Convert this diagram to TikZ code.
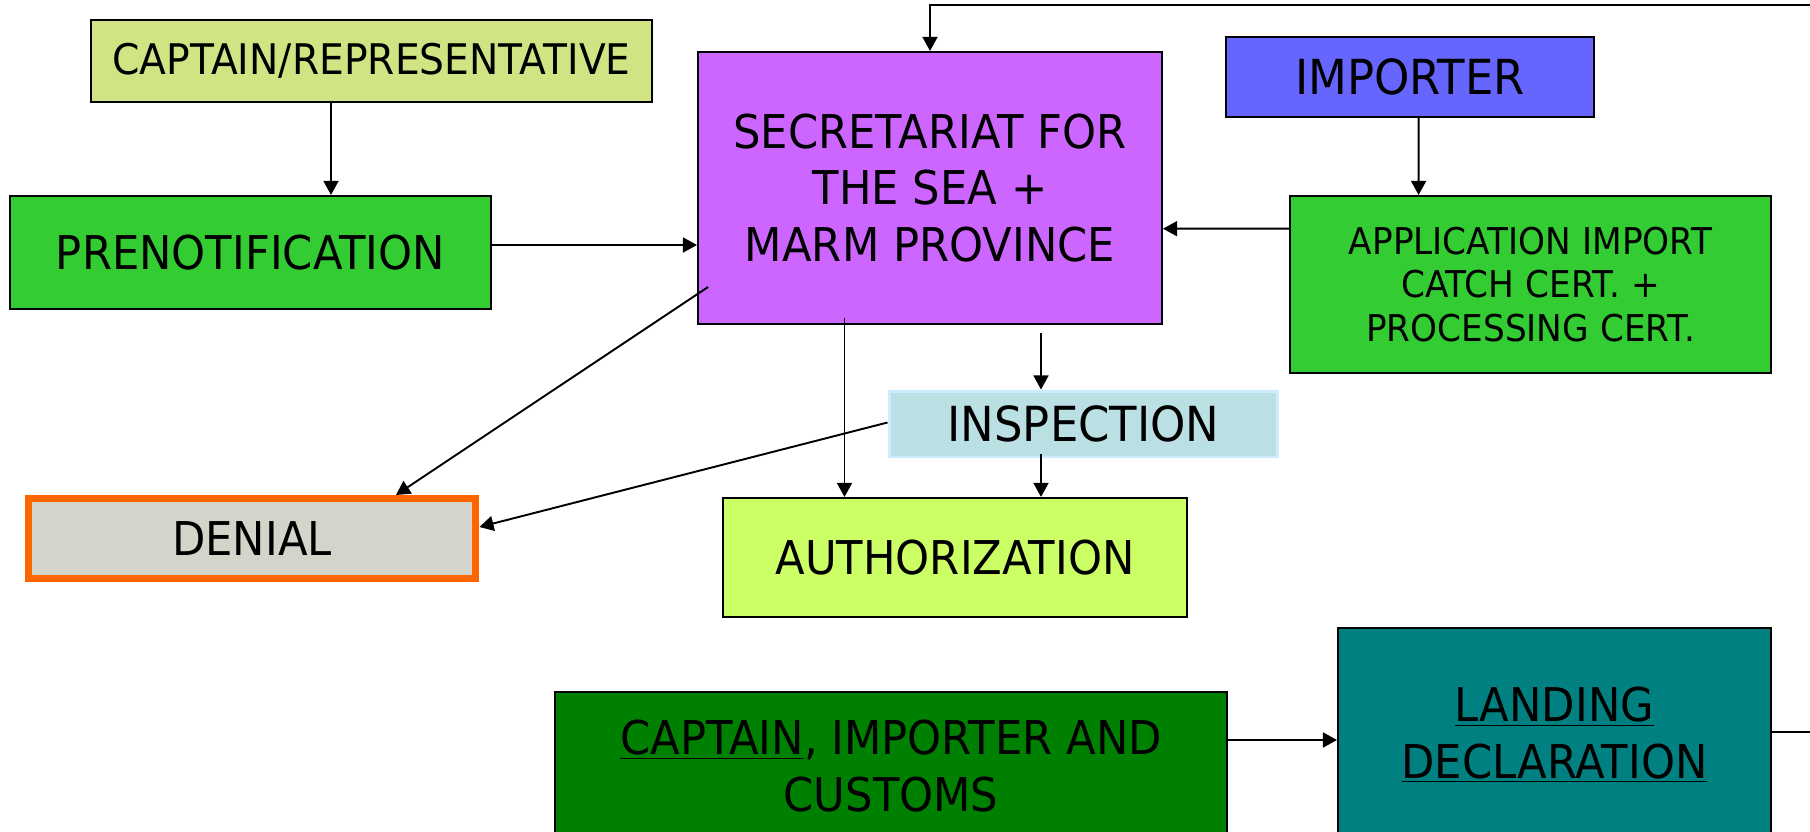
\documentclass[tikz,border=0pt]{standalone}
\usepackage{fontspec}
\setmainfont{DejaVu Sans}[FakeStretch=0.93]
\usetikzlibrary{arrows.meta,calc}

\definecolor{capfill}{RGB}{208,228,132}
\definecolor{greenfill}{RGB}{51,204,51}
\definecolor{secfill}{RGB}{204,102,255}
\definecolor{impfill}{RGB}{102,102,255}
\definecolor{inspfill}{RGB}{187,224,227}
\definecolor{inspline}{RGB}{204,236,255}
\definecolor{denfill}{RGB}{212,212,202}
\definecolor{denline}{RGB}{255,102,0}
\definecolor{authfill}{RGB}{204,255,102}
\definecolor{custfill}{RGB}{0,128,0}
\definecolor{landfill}{RGB}{0,128,128}

\begin{document}
\begin{tikzpicture}[x=0.02cm,y=-0.02cm,>={Triangle[length=8pt,width=8.5pt]},
  box/.style={rectangle,draw,line width=1.2pt,inner sep=0pt,align=center,
    font=\fontsize{26.5}{32.4}\selectfont},
  link/.style={->,line width=1.1pt}]

  \useasboundingbox[fill=white] (0,0) rectangle (1810,832);

  \node[box,fill=capfill,minimum width=11.22cm,minimum height=1.64cm,
    font=\fontsize{24}{30}\selectfont] (cap) at (371.5,61) {CAPTAIN/REPRESENTATIVE};
  \node[box,fill=greenfill,minimum width=9.62cm,minimum height=2.26cm] (pren) at (250.5,252.5) {PRENOTIFICATION};
  \node[box,fill=secfill,minimum width=9.28cm,minimum height=5.44cm] (sec) at (930,188)
    {SECRETARIAT FOR\\THE SEA +\\MARM PROVINCE};
  \node[box,fill=impfill,minimum width=7.36cm,minimum height=1.6cm,
    font=\fontsize{27.5}{33}\selectfont] (imp) at (1410,77) {IMPORTER};
  \node[box,fill=greenfill,minimum width=9.62cm,minimum height=3.54cm,
    font=\fontsize{21}{25}\selectfont] (app) at (1530.5,284.5)
    {APPLICATION IMPORT\\CATCH CERT. +\\PROCESSING CERT.};
  \node[box,draw=inspline,line width=1.7pt,fill=inspfill,minimum width=7.78cm,minimum height=1.32cm,
    font=\fontsize{27.5}{33}\selectfont] (insp) at (1083.5,424) {INSPECTION};
  \node[box,draw=denline,line width=4pt,fill=denfill,minimum width=8.96cm,minimum height=1.6cm] (den) at (252,538.5) {DENIAL};
  \node[box,fill=authfill,minimum width=9.28cm,minimum height=2.38cm] (auth) at (955,557.5) {AUTHORIZATION};
  \node[box,fill=custfill,minimum width=13.44cm,minimum height=2.98cm] (cust) at (891,766.5)
    {\underline{CAPTAIN}, IMPORTER AND\\CUSTOMS};
  \node[box,fill=landfill,minimum width=8.66cm,minimum height=4.28cm] (land) at (1554.5,735)
    {\underline{LANDING}\\\underline{DECLARATION}};

  \coordinate (loop) at (1850,4.7);

  \path[link]
    ($(cap.south)+(-40.5,0)$) edge ($(pren.north)+(80.5,0)$)
    ($(pren.east)+(0,-7.5)$) edge ($(sec.west)+(0,57)$)
    ($(app.west)+(0,-55.8)$) edge ($(sec.east)+(0,40.7)$)
    ($(imp.south)+(8.6,0)$) edge ($(app.north)+(-111.9,0)$)
    ($(sec.center)+(-222,99)$) edge ($(den.north)+(144,0)$)
    ($(sec.south)+(-85.5,-7)$) edge ($(auth.north)+(-110.5,0)$)
    ($(sec.south)+(111,8)$) edge ($(insp.north)+(-42.5,0)$)
    ($(insp.south)+(-42.5,-4)$) edge ($(auth.north)+(86,0)$)
    ($(insp.west)+(0,-1.5)$) edge ($(den.east)+(0,-11.5)$)
    ($(cust.east)+(0,-26.5)$) edge ($(land.west)+(0,5)$);
  \draw[link] ($(land.east)+(0,-3)$) -| (loop) -| (sec.north);
\end{tikzpicture}
\end{document}
